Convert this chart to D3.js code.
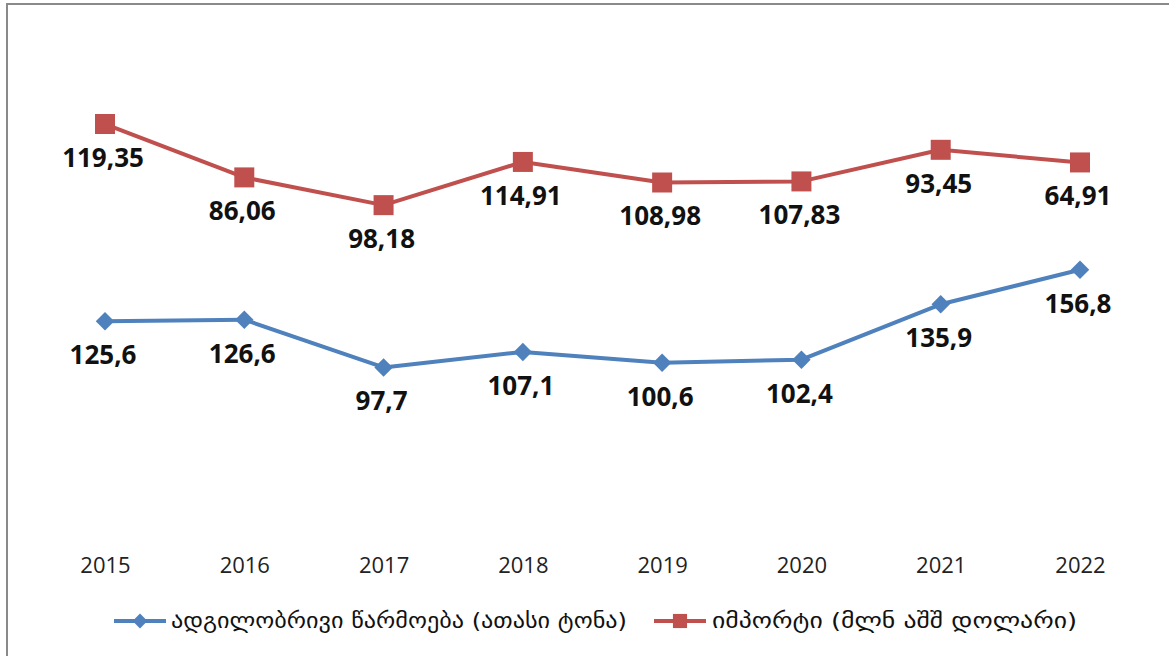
<!DOCTYPE html>
<html>
<head>
<meta charset="utf-8">
<script src="https://cdn.jsdelivr.net/npm/d3@7"></script>
<style>
  body { margin: 0; background: #fff; }
  svg { display: block; }
</style>
</head>
<body>
<div id="chart"></div>
<script>
// chart data
var years = ["2015", "2016", "2017", "2018", "2019", "2020", "2021", "2022"];
var production = [125.6, 126.6, 97.7, 107.1, 100.6, 102.4, 135.9, 156.8];
var imports = [119.35, 86.06, 98.18, 114.91, 108.98, 107.83, 93.45, 64.91];
var seriesNames = ["ადგილობრივი წარმოება (ათასი ტონა)", "იმპორტი (მლნ აშშ დოლარი)"];
var colors = ["#4F81BD", "#C0504D"];

var W = 1169, H = 656;

var svg = d3.select("#chart").append("svg")
    .attr("width", W)
    .attr("height", H);

// frame
svg.append("rect")
    .attr("x", 7).attr("y", 4)
    .attr("width", W + 10).attr("height", H + 10)
    .attr("fill", "#fff")
    .attr("stroke", "#8a8a8a")
    .attr("stroke-width", 2);

var rows = years.map(function(y, i) {
    return { year: y, production: production[i], imports: imports[i] };
});

// stacked line chart (second series sits on top of the first)
var stack = d3.stack().keys(["production", "imports"]);
var stacked = stack(rows);

var x = d3.scalePoint()
    .domain(years)
    .range([105, 1080]);

var y = d3.scaleLinear()
    .domain([0, 300])
    .range([529, 33]);

// x axis labels only
var xAxis = svg.append("g")
    .attr("transform", "translate(0,529)")
    .call(d3.axisBottom(x).tickSize(0).tickPadding(28));
xAxis.select(".domain").remove();
xAxis.selectAll("text")
    .style("font-family", "'Open Sans', sans-serif")
    .style("font-size", "22px")
    .attr("fill", "#222");

var line = d3.line()
    .x(function(d) { return x(d.data.year); })
    .y(function(d) { return y(d[1]); });

var labelVals = [production, imports];
var fmt = function(v) { return String(v).replace(".", ","); };

// square symbol, rotated for the diamond markers
function marker(si, size) {
    return d3.symbol().type(d3.symbolSquare).size(size)();
}

stacked.forEach(function(s, si) {
    svg.append("path")
        .datum(s)
        .attr("fill", "none")
        .attr("stroke", colors[si])
        .attr("stroke-width", 4)
        .attr("stroke-linejoin", "round")
        .attr("d", line);

    var size = si === 0 ? 170 : 400;
    var rot = si === 0 ? " rotate(45)" : "";
    svg.selectAll(".m" + si)
        .data(s)
        .enter().append("path")
        .attr("class", "m" + si)
        .attr("transform", function(d) { return "translate(" + x(d.data.year) + "," + y(d[1]) + ")" + rot; })
        .attr("d", marker(si, size))
        .attr("fill", colors[si]);

    svg.selectAll(".l" + si)
        .data(s)
        .enter().append("text")
        .attr("class", "l" + si)
        .attr("x", function(d) { return x(d.data.year) - 2; })
        .attr("y", function(d) { return y(d[1]) + 43; })
        .attr("text-anchor", "middle")
        .style("font-family", "'Open Sans', sans-serif")
        .style("font-weight", "bold")
        .style("font-size", "26px")
        .attr("fill", "#111")
        .text(function(d, i) { return fmt(labelVals[si][i]); });
});

// legend
var legendItems = [
    { x: 114, textX: 171, textW: 456 },
    { x: 654, textX: 712, textW: 365 }
];
legendItems.forEach(function(l, i) {
    var g = svg.append("g").attr("transform", "translate(0,621)");
    g.append("line")
        .attr("x1", l.x).attr("x2", l.x + 52)
        .attr("y1", 0).attr("y2", 0)
        .attr("stroke", colors[i])
        .attr("stroke-width", 4);
    g.append("path")
        .attr("transform", "translate(" + (l.x + 26) + ",0)" + (i === 0 ? " rotate(45)" : ""))
        .attr("d", marker(i, i === 0 ? 110 : 200))
        .attr("fill", colors[i]);
    g.append("text")
        .attr("x", l.textX)
        .attr("y", 0)
        .attr("dy", "0.35em")
        .attr("textLength", l.textW)
        .attr("lengthAdjust", "spacingAndGlyphs")
        .style("font-family", "'DejaVu Sans', sans-serif")
        .style("font-size", "21px")
        .attr("fill", "#111")
        .text(seriesNames[i]);
});
</script>
</body>
</html>
